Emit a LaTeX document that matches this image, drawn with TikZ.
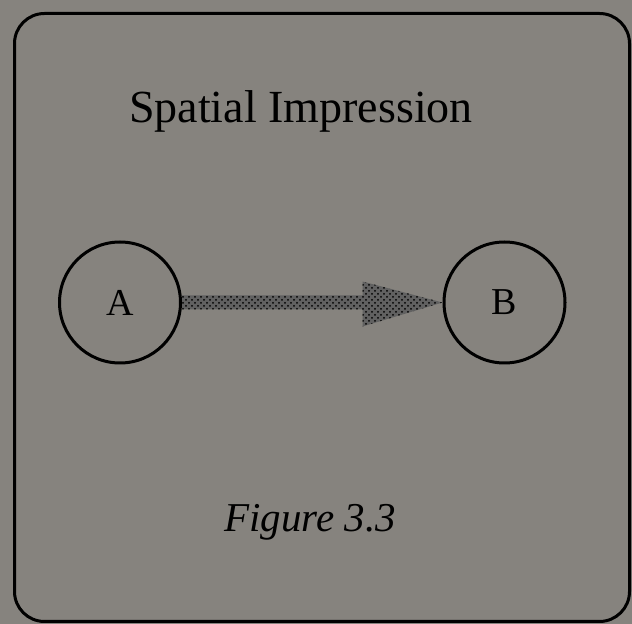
\documentclass[tikz,border=0pt]{standalone}
\usepackage{fontspec}
\setmainfont{Liberation Serif}
\usepackage{xcolor}
\usepackage{tikz}
\usetikzlibrary{arrows.meta,positioning,calc,patterns}

\definecolor{panelgray}{RGB}{134,131,126}

\begin{document}
\begin{tikzpicture}[
  x=0.5pt, y=-0.5pt,
  frame/.style={draw=black, line width=1.5pt, rounded corners=15pt},
  place/.style={circle, draw=black, line width=1.5pt,
                minimum size=60.5pt, inner sep=0pt,
                font=\fontsize{19}{22}\selectfont},
  flow/.style={pattern=crosshatch dots, pattern color=black,
               preaction={fill=black!62}},
  heading/.style={anchor=base, font=\fontsize{23}{27}\selectfont},
  caption/.style={anchor=base, font=\fontsize{20.5}{24}\selectfont\itshape}
]

% ==================== Panel ====================
\fill[panelgray] (0,0) rectangle (632,624);
\useasboundingbox (0,0) rectangle (632,624);
\draw[frame] (14.5,13.5) rectangle (629.5,621.5);

% ==================== Nodes ====================
\node[heading] (title) at (301,123) {Spatial Impression};
\node[place] (A) at (120,302.5) {A};
\node[place] (B) at (504.5,302.5) {B};
\node[caption] (fig) at (310,532) {Figure 3.3};

% ==================== Impression arrow ====================
\path[flow] ($(A.east)+(0,-7)$) -- ($(B.west)+(-80,-7)$)
  -- ($(B.west)+(-80,-21)$) -- (B.west)
  -- ($(B.west)+(-80,24)$) -- ($(B.west)+(-80,7)$)
  -- ($(A.east)+(0,7)$) -- cycle;

\end{tikzpicture}
\end{document}
